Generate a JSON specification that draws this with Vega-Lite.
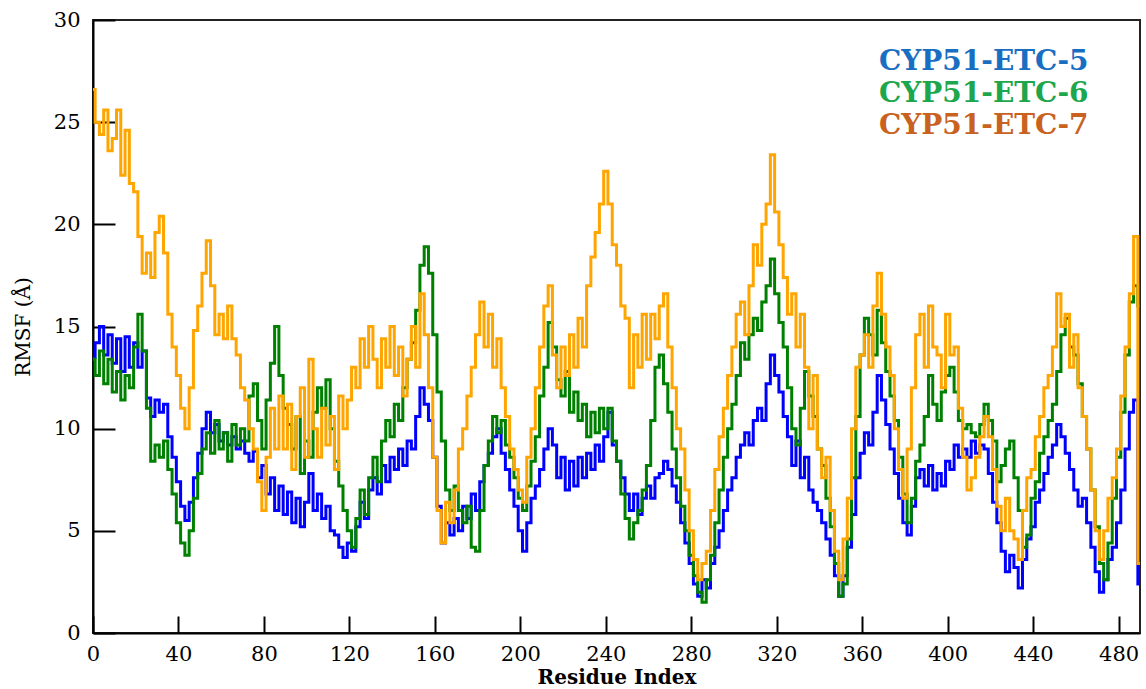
{
"$schema": "https://vega.github.io/schema/vega-lite/v6.json",
"width": 1047,
"height": 613,
"autosize": {"type": "none"},
"padding": {"left": 93, "top": 20, "right": 6, "bottom": 56},
"view": {"stroke": "#222222", "strokeWidth": 2},
"data": {"values": [
{"s":"CYP51-ETC-5","r":0,"v":13.5},{"s":"CYP51-ETC-5","r":2,"v":14.2},{"s":"CYP51-ETC-5","r":4,"v":15.0},{"s":"CYP51-ETC-5","r":6,"v":13.6},{"s":"CYP51-ETC-5","r":8,"v":14.6},{"s":"CYP51-ETC-5","r":10,"v":13.2},{"s":"CYP51-ETC-5","r":12,"v":14.4},{"s":"CYP51-ETC-5","r":14,"v":12.8},{"s":"CYP51-ETC-5","r":16,"v":14.5},{"s":"CYP51-ETC-5","r":18,"v":13.0},
{"s":"CYP51-ETC-5","r":20,"v":14.2},{"s":"CYP51-ETC-5","r":22,"v":13.0},{"s":"CYP51-ETC-5","r":24,"v":13.8},{"s":"CYP51-ETC-5","r":26,"v":11.5},{"s":"CYP51-ETC-5","r":28,"v":10.6},{"s":"CYP51-ETC-5","r":30,"v":11.4},{"s":"CYP51-ETC-5","r":32,"v":10.8},{"s":"CYP51-ETC-5","r":34,"v":11.2},{"s":"CYP51-ETC-5","r":36,"v":9.6},{"s":"CYP51-ETC-5","r":38,"v":8.6},
{"s":"CYP51-ETC-5","r":40,"v":7.4},{"s":"CYP51-ETC-5","r":42,"v":6.2},{"s":"CYP51-ETC-5","r":44,"v":5.5},{"s":"CYP51-ETC-5","r":46,"v":6.4},{"s":"CYP51-ETC-5","r":48,"v":7.6},{"s":"CYP51-ETC-5","r":50,"v":8.8},{"s":"CYP51-ETC-5","r":52,"v":10.0},{"s":"CYP51-ETC-5","r":54,"v":10.8},{"s":"CYP51-ETC-5","r":56,"v":9.8},{"s":"CYP51-ETC-5","r":58,"v":10.2},
{"s":"CYP51-ETC-5","r":60,"v":9.4},{"s":"CYP51-ETC-5","r":62,"v":9.8},{"s":"CYP51-ETC-5","r":64,"v":9.2},{"s":"CYP51-ETC-5","r":66,"v":9.6},{"s":"CYP51-ETC-5","r":68,"v":9.0},{"s":"CYP51-ETC-5","r":70,"v":9.4},{"s":"CYP51-ETC-5","r":72,"v":8.8},{"s":"CYP51-ETC-5","r":74,"v":8.4},{"s":"CYP51-ETC-5","r":76,"v":8.9},{"s":"CYP51-ETC-5","r":78,"v":7.6},
{"s":"CYP51-ETC-5","r":80,"v":8.2},{"s":"CYP51-ETC-5","r":82,"v":6.8},{"s":"CYP51-ETC-5","r":84,"v":7.6},{"s":"CYP51-ETC-5","r":86,"v":6.0},{"s":"CYP51-ETC-5","r":88,"v":7.2},{"s":"CYP51-ETC-5","r":90,"v":5.8},{"s":"CYP51-ETC-5","r":92,"v":6.9},{"s":"CYP51-ETC-5","r":94,"v":5.4},{"s":"CYP51-ETC-5","r":96,"v":6.6},{"s":"CYP51-ETC-5","r":98,"v":5.2},
{"s":"CYP51-ETC-5","r":100,"v":6.4},{"s":"CYP51-ETC-5","r":102,"v":7.8},{"s":"CYP51-ETC-5","r":104,"v":6.0},{"s":"CYP51-ETC-5","r":106,"v":6.8},{"s":"CYP51-ETC-5","r":108,"v":5.6},{"s":"CYP51-ETC-5","r":110,"v":6.2},{"s":"CYP51-ETC-5","r":112,"v":5.0},{"s":"CYP51-ETC-5","r":114,"v":4.8},{"s":"CYP51-ETC-5","r":116,"v":4.2},{"s":"CYP51-ETC-5","r":118,"v":3.7},
{"s":"CYP51-ETC-5","r":120,"v":4.4},{"s":"CYP51-ETC-5","r":122,"v":4.0},{"s":"CYP51-ETC-5","r":124,"v":5.2},{"s":"CYP51-ETC-5","r":126,"v":6.4},{"s":"CYP51-ETC-5","r":128,"v":5.6},{"s":"CYP51-ETC-5","r":130,"v":7.0},{"s":"CYP51-ETC-5","r":132,"v":7.6},{"s":"CYP51-ETC-5","r":134,"v":6.8},{"s":"CYP51-ETC-5","r":136,"v":8.2},{"s":"CYP51-ETC-5","r":138,"v":7.4},
{"s":"CYP51-ETC-5","r":140,"v":8.6},{"s":"CYP51-ETC-5","r":142,"v":8.0},{"s":"CYP51-ETC-5","r":144,"v":9.0},{"s":"CYP51-ETC-5","r":146,"v":8.2},{"s":"CYP51-ETC-5","r":148,"v":9.4},{"s":"CYP51-ETC-5","r":150,"v":9.0},{"s":"CYP51-ETC-5","r":152,"v":10.6},{"s":"CYP51-ETC-5","r":154,"v":12.0},{"s":"CYP51-ETC-5","r":156,"v":11.2},{"s":"CYP51-ETC-5","r":158,"v":10.4},
{"s":"CYP51-ETC-5","r":160,"v":8.6},{"s":"CYP51-ETC-5","r":162,"v":6.2},{"s":"CYP51-ETC-5","r":164,"v":4.4},{"s":"CYP51-ETC-5","r":166,"v":5.4},{"s":"CYP51-ETC-5","r":168,"v":4.8},{"s":"CYP51-ETC-5","r":170,"v":5.6},{"s":"CYP51-ETC-5","r":172,"v":5.0},{"s":"CYP51-ETC-5","r":174,"v":6.2},{"s":"CYP51-ETC-5","r":176,"v":5.6},{"s":"CYP51-ETC-5","r":178,"v":6.8},
{"s":"CYP51-ETC-5","r":180,"v":6.0},{"s":"CYP51-ETC-5","r":182,"v":7.4},{"s":"CYP51-ETC-5","r":184,"v":8.2},{"s":"CYP51-ETC-5","r":186,"v":8.8},{"s":"CYP51-ETC-5","r":188,"v":9.6},{"s":"CYP51-ETC-5","r":190,"v":10.0},{"s":"CYP51-ETC-5","r":192,"v":8.8},{"s":"CYP51-ETC-5","r":194,"v":8.0},{"s":"CYP51-ETC-5","r":196,"v":7.0},{"s":"CYP51-ETC-5","r":198,"v":6.2},
{"s":"CYP51-ETC-5","r":200,"v":5.0},{"s":"CYP51-ETC-5","r":202,"v":4.0},{"s":"CYP51-ETC-5","r":204,"v":5.4},{"s":"CYP51-ETC-5","r":206,"v":6.6},{"s":"CYP51-ETC-5","r":208,"v":7.2},{"s":"CYP51-ETC-5","r":210,"v":8.0},{"s":"CYP51-ETC-5","r":212,"v":9.0},{"s":"CYP51-ETC-5","r":214,"v":10.0},{"s":"CYP51-ETC-5","r":216,"v":9.2},{"s":"CYP51-ETC-5","r":218,"v":7.6},
{"s":"CYP51-ETC-5","r":220,"v":8.6},{"s":"CYP51-ETC-5","r":222,"v":7.0},{"s":"CYP51-ETC-5","r":224,"v":8.4},{"s":"CYP51-ETC-5","r":226,"v":7.2},{"s":"CYP51-ETC-5","r":228,"v":8.6},{"s":"CYP51-ETC-5","r":230,"v":7.6},{"s":"CYP51-ETC-5","r":232,"v":8.8},{"s":"CYP51-ETC-5","r":234,"v":8.0},{"s":"CYP51-ETC-5","r":236,"v":9.2},{"s":"CYP51-ETC-5","r":238,"v":8.4},
{"s":"CYP51-ETC-5","r":240,"v":9.6},{"s":"CYP51-ETC-5","r":242,"v":10.8},{"s":"CYP51-ETC-5","r":244,"v":9.2},{"s":"CYP51-ETC-5","r":246,"v":8.4},{"s":"CYP51-ETC-5","r":248,"v":7.6},{"s":"CYP51-ETC-5","r":250,"v":6.8},{"s":"CYP51-ETC-5","r":252,"v":6.0},{"s":"CYP51-ETC-5","r":254,"v":6.8},{"s":"CYP51-ETC-5","r":256,"v":5.8},{"s":"CYP51-ETC-5","r":258,"v":6.6},
{"s":"CYP51-ETC-5","r":260,"v":7.2},{"s":"CYP51-ETC-5","r":262,"v":6.6},{"s":"CYP51-ETC-5","r":264,"v":7.6},{"s":"CYP51-ETC-5","r":266,"v":7.8},{"s":"CYP51-ETC-5","r":268,"v":8.4},{"s":"CYP51-ETC-5","r":270,"v":8.0},{"s":"CYP51-ETC-5","r":272,"v":7.2},{"s":"CYP51-ETC-5","r":274,"v":6.4},{"s":"CYP51-ETC-5","r":276,"v":5.4},{"s":"CYP51-ETC-5","r":278,"v":4.4},
{"s":"CYP51-ETC-5","r":280,"v":3.4},{"s":"CYP51-ETC-5","r":282,"v":2.4},{"s":"CYP51-ETC-5","r":284,"v":1.8},{"s":"CYP51-ETC-5","r":286,"v":2.6},{"s":"CYP51-ETC-5","r":288,"v":2.2},{"s":"CYP51-ETC-5","r":290,"v":3.4},{"s":"CYP51-ETC-5","r":292,"v":4.2},{"s":"CYP51-ETC-5","r":294,"v":5.0},{"s":"CYP51-ETC-5","r":296,"v":6.0},{"s":"CYP51-ETC-5","r":298,"v":7.0},
{"s":"CYP51-ETC-5","r":300,"v":7.6},{"s":"CYP51-ETC-5","r":302,"v":8.6},{"s":"CYP51-ETC-5","r":304,"v":9.2},{"s":"CYP51-ETC-5","r":306,"v":9.8},{"s":"CYP51-ETC-5","r":308,"v":9.2},{"s":"CYP51-ETC-5","r":310,"v":10.4},{"s":"CYP51-ETC-5","r":312,"v":11.0},{"s":"CYP51-ETC-5","r":314,"v":10.4},{"s":"CYP51-ETC-5","r":316,"v":12.2},{"s":"CYP51-ETC-5","r":318,"v":13.6},
{"s":"CYP51-ETC-5","r":320,"v":12.6},{"s":"CYP51-ETC-5","r":322,"v":11.8},{"s":"CYP51-ETC-5","r":324,"v":10.6},{"s":"CYP51-ETC-5","r":326,"v":9.6},{"s":"CYP51-ETC-5","r":328,"v":8.2},{"s":"CYP51-ETC-5","r":330,"v":9.4},{"s":"CYP51-ETC-5","r":332,"v":7.6},{"s":"CYP51-ETC-5","r":334,"v":8.6},{"s":"CYP51-ETC-5","r":336,"v":7.0},{"s":"CYP51-ETC-5","r":338,"v":6.4},
{"s":"CYP51-ETC-5","r":340,"v":6.0},{"s":"CYP51-ETC-5","r":342,"v":5.4},{"s":"CYP51-ETC-5","r":344,"v":4.6},{"s":"CYP51-ETC-5","r":346,"v":3.8},{"s":"CYP51-ETC-5","r":348,"v":2.8},{"s":"CYP51-ETC-5","r":350,"v":1.8},{"s":"CYP51-ETC-5","r":352,"v":2.8},{"s":"CYP51-ETC-5","r":354,"v":4.2},{"s":"CYP51-ETC-5","r":356,"v":5.8},{"s":"CYP51-ETC-5","r":358,"v":7.6},
{"s":"CYP51-ETC-5","r":360,"v":8.8},{"s":"CYP51-ETC-5","r":362,"v":9.8},{"s":"CYP51-ETC-5","r":364,"v":9.2},{"s":"CYP51-ETC-5","r":366,"v":10.8},{"s":"CYP51-ETC-5","r":368,"v":12.6},{"s":"CYP51-ETC-5","r":370,"v":11.4},{"s":"CYP51-ETC-5","r":372,"v":10.2},{"s":"CYP51-ETC-5","r":374,"v":9.0},{"s":"CYP51-ETC-5","r":376,"v":7.8},{"s":"CYP51-ETC-5","r":378,"v":6.6},
{"s":"CYP51-ETC-5","r":380,"v":5.4},{"s":"CYP51-ETC-5","r":382,"v":4.8},{"s":"CYP51-ETC-5","r":384,"v":6.2},{"s":"CYP51-ETC-5","r":386,"v":7.6},{"s":"CYP51-ETC-5","r":388,"v":8.0},{"s":"CYP51-ETC-5","r":390,"v":7.2},{"s":"CYP51-ETC-5","r":392,"v":8.2},{"s":"CYP51-ETC-5","r":394,"v":7.0},{"s":"CYP51-ETC-5","r":396,"v":7.8},{"s":"CYP51-ETC-5","r":398,"v":7.2},
{"s":"CYP51-ETC-5","r":400,"v":8.4},{"s":"CYP51-ETC-5","r":402,"v":8.0},{"s":"CYP51-ETC-5","r":404,"v":9.2},{"s":"CYP51-ETC-5","r":406,"v":8.6},{"s":"CYP51-ETC-5","r":408,"v":9.0},{"s":"CYP51-ETC-5","r":410,"v":8.6},{"s":"CYP51-ETC-5","r":412,"v":9.4},{"s":"CYP51-ETC-5","r":414,"v":8.8},{"s":"CYP51-ETC-5","r":416,"v":9.2},{"s":"CYP51-ETC-5","r":418,"v":9.0},
{"s":"CYP51-ETC-5","r":420,"v":7.8},{"s":"CYP51-ETC-5","r":422,"v":6.4},{"s":"CYP51-ETC-5","r":424,"v":5.4},{"s":"CYP51-ETC-5","r":426,"v":4.0},{"s":"CYP51-ETC-5","r":428,"v":3.0},{"s":"CYP51-ETC-5","r":430,"v":3.8},{"s":"CYP51-ETC-5","r":432,"v":3.2},{"s":"CYP51-ETC-5","r":434,"v":2.2},{"s":"CYP51-ETC-5","r":436,"v":3.6},{"s":"CYP51-ETC-5","r":438,"v":4.6},
{"s":"CYP51-ETC-5","r":440,"v":5.2},{"s":"CYP51-ETC-5","r":442,"v":6.4},{"s":"CYP51-ETC-5","r":444,"v":7.0},{"s":"CYP51-ETC-5","r":446,"v":7.8},{"s":"CYP51-ETC-5","r":448,"v":8.6},{"s":"CYP51-ETC-5","r":450,"v":9.2},{"s":"CYP51-ETC-5","r":452,"v":10.2},{"s":"CYP51-ETC-5","r":454,"v":9.6},{"s":"CYP51-ETC-5","r":456,"v":8.8},{"s":"CYP51-ETC-5","r":458,"v":8.0},
{"s":"CYP51-ETC-5","r":460,"v":7.0},{"s":"CYP51-ETC-5","r":462,"v":6.2},{"s":"CYP51-ETC-5","r":464,"v":6.6},{"s":"CYP51-ETC-5","r":466,"v":5.4},{"s":"CYP51-ETC-5","r":468,"v":4.2},{"s":"CYP51-ETC-5","r":470,"v":3.0},{"s":"CYP51-ETC-5","r":472,"v":2.0},{"s":"CYP51-ETC-5","r":474,"v":2.6},{"s":"CYP51-ETC-5","r":476,"v":3.6},{"s":"CYP51-ETC-5","r":478,"v":4.2},
{"s":"CYP51-ETC-5","r":480,"v":5.4},{"s":"CYP51-ETC-5","r":482,"v":7.0},{"s":"CYP51-ETC-5","r":484,"v":9.0},{"s":"CYP51-ETC-5","r":486,"v":10.8},{"s":"CYP51-ETC-5","r":488,"v":11.4},{"s":"CYP51-ETC-5","r":490,"v":2.4},
{"s":"CYP51-ETC-6","r":0,"v":13.4},{"s":"CYP51-ETC-6","r":2,"v":12.6},{"s":"CYP51-ETC-6","r":4,"v":13.8},{"s":"CYP51-ETC-6","r":6,"v":12.2},{"s":"CYP51-ETC-6","r":8,"v":13.4},{"s":"CYP51-ETC-6","r":10,"v":11.8},{"s":"CYP51-ETC-6","r":12,"v":12.8},{"s":"CYP51-ETC-6","r":14,"v":11.4},{"s":"CYP51-ETC-6","r":16,"v":12.6},{"s":"CYP51-ETC-6","r":18,"v":12.0},
{"s":"CYP51-ETC-6","r":20,"v":14.0},{"s":"CYP51-ETC-6","r":22,"v":15.6},{"s":"CYP51-ETC-6","r":24,"v":13.8},{"s":"CYP51-ETC-6","r":26,"v":11.0},{"s":"CYP51-ETC-6","r":28,"v":8.4},{"s":"CYP51-ETC-6","r":30,"v":9.2},{"s":"CYP51-ETC-6","r":32,"v":8.6},{"s":"CYP51-ETC-6","r":34,"v":9.4},{"s":"CYP51-ETC-6","r":36,"v":8.0},{"s":"CYP51-ETC-6","r":38,"v":6.8},
{"s":"CYP51-ETC-6","r":40,"v":5.4},{"s":"CYP51-ETC-6","r":42,"v":4.4},{"s":"CYP51-ETC-6","r":44,"v":3.8},{"s":"CYP51-ETC-6","r":46,"v":5.0},{"s":"CYP51-ETC-6","r":48,"v":6.6},{"s":"CYP51-ETC-6","r":50,"v":7.8},{"s":"CYP51-ETC-6","r":52,"v":9.0},{"s":"CYP51-ETC-6","r":54,"v":9.8},{"s":"CYP51-ETC-6","r":56,"v":8.8},{"s":"CYP51-ETC-6","r":58,"v":10.4},
{"s":"CYP51-ETC-6","r":60,"v":9.0},{"s":"CYP51-ETC-6","r":62,"v":9.8},{"s":"CYP51-ETC-6","r":64,"v":8.4},{"s":"CYP51-ETC-6","r":66,"v":10.2},{"s":"CYP51-ETC-6","r":68,"v":9.2},{"s":"CYP51-ETC-6","r":70,"v":10.0},{"s":"CYP51-ETC-6","r":72,"v":9.4},{"s":"CYP51-ETC-6","r":74,"v":11.6},{"s":"CYP51-ETC-6","r":76,"v":12.2},{"s":"CYP51-ETC-6","r":78,"v":10.4},
{"s":"CYP51-ETC-6","r":80,"v":9.0},{"s":"CYP51-ETC-6","r":82,"v":11.4},{"s":"CYP51-ETC-6","r":84,"v":13.2},{"s":"CYP51-ETC-6","r":86,"v":15.0},{"s":"CYP51-ETC-6","r":88,"v":12.6},{"s":"CYP51-ETC-6","r":90,"v":11.0},{"s":"CYP51-ETC-6","r":92,"v":10.2},{"s":"CYP51-ETC-6","r":94,"v":9.0},{"s":"CYP51-ETC-6","r":96,"v":10.6},{"s":"CYP51-ETC-6","r":98,"v":7.8},
{"s":"CYP51-ETC-6","r":100,"v":9.4},{"s":"CYP51-ETC-6","r":102,"v":8.6},{"s":"CYP51-ETC-6","r":104,"v":10.8},{"s":"CYP51-ETC-6","r":106,"v":12.0},{"s":"CYP51-ETC-6","r":108,"v":11.0},{"s":"CYP51-ETC-6","r":110,"v":12.4},{"s":"CYP51-ETC-6","r":112,"v":10.0},{"s":"CYP51-ETC-6","r":114,"v":8.4},{"s":"CYP51-ETC-6","r":116,"v":7.2},{"s":"CYP51-ETC-6","r":118,"v":6.0},
{"s":"CYP51-ETC-6","r":120,"v":5.0},{"s":"CYP51-ETC-6","r":122,"v":4.2},{"s":"CYP51-ETC-6","r":124,"v":5.6},{"s":"CYP51-ETC-6","r":126,"v":7.0},{"s":"CYP51-ETC-6","r":128,"v":5.8},{"s":"CYP51-ETC-6","r":130,"v":7.6},{"s":"CYP51-ETC-6","r":132,"v":8.6},{"s":"CYP51-ETC-6","r":134,"v":7.4},{"s":"CYP51-ETC-6","r":136,"v":9.4},{"s":"CYP51-ETC-6","r":138,"v":10.4},
{"s":"CYP51-ETC-6","r":140,"v":9.6},{"s":"CYP51-ETC-6","r":142,"v":11.2},{"s":"CYP51-ETC-6","r":144,"v":10.4},{"s":"CYP51-ETC-6","r":146,"v":12.0},{"s":"CYP51-ETC-6","r":148,"v":13.4},{"s":"CYP51-ETC-6","r":150,"v":14.2},{"s":"CYP51-ETC-6","r":152,"v":15.8},{"s":"CYP51-ETC-6","r":154,"v":18.0},{"s":"CYP51-ETC-6","r":156,"v":18.9},{"s":"CYP51-ETC-6","r":158,"v":17.6},
{"s":"CYP51-ETC-6","r":160,"v":14.6},{"s":"CYP51-ETC-6","r":162,"v":11.8},{"s":"CYP51-ETC-6","r":164,"v":9.4},{"s":"CYP51-ETC-6","r":166,"v":7.0},{"s":"CYP51-ETC-6","r":168,"v":6.0},{"s":"CYP51-ETC-6","r":170,"v":7.2},{"s":"CYP51-ETC-6","r":172,"v":6.0},{"s":"CYP51-ETC-6","r":174,"v":5.4},{"s":"CYP51-ETC-6","r":176,"v":6.2},{"s":"CYP51-ETC-6","r":178,"v":4.2},
{"s":"CYP51-ETC-6","r":180,"v":4.0},{"s":"CYP51-ETC-6","r":182,"v":6.0},{"s":"CYP51-ETC-6","r":184,"v":8.2},{"s":"CYP51-ETC-6","r":186,"v":9.4},{"s":"CYP51-ETC-6","r":188,"v":10.6},{"s":"CYP51-ETC-6","r":190,"v":9.8},{"s":"CYP51-ETC-6","r":192,"v":10.4},{"s":"CYP51-ETC-6","r":194,"v":9.2},{"s":"CYP51-ETC-6","r":196,"v":8.6},{"s":"CYP51-ETC-6","r":198,"v":7.6},
{"s":"CYP51-ETC-6","r":200,"v":6.6},{"s":"CYP51-ETC-6","r":202,"v":6.0},{"s":"CYP51-ETC-6","r":204,"v":7.2},{"s":"CYP51-ETC-6","r":206,"v":8.4},{"s":"CYP51-ETC-6","r":208,"v":9.6},{"s":"CYP51-ETC-6","r":210,"v":11.6},{"s":"CYP51-ETC-6","r":212,"v":13.0},{"s":"CYP51-ETC-6","r":214,"v":15.2},{"s":"CYP51-ETC-6","r":216,"v":14.0},{"s":"CYP51-ETC-6","r":218,"v":12.4},
{"s":"CYP51-ETC-6","r":220,"v":11.6},{"s":"CYP51-ETC-6","r":222,"v":12.8},{"s":"CYP51-ETC-6","r":224,"v":10.8},{"s":"CYP51-ETC-6","r":226,"v":11.8},{"s":"CYP51-ETC-6","r":228,"v":10.4},{"s":"CYP51-ETC-6","r":230,"v":11.2},{"s":"CYP51-ETC-6","r":232,"v":9.6},{"s":"CYP51-ETC-6","r":234,"v":10.8},{"s":"CYP51-ETC-6","r":236,"v":9.8},{"s":"CYP51-ETC-6","r":238,"v":11.0},
{"s":"CYP51-ETC-6","r":240,"v":10.0},{"s":"CYP51-ETC-6","r":242,"v":11.0},{"s":"CYP51-ETC-6","r":244,"v":9.4},{"s":"CYP51-ETC-6","r":246,"v":8.4},{"s":"CYP51-ETC-6","r":248,"v":6.8},{"s":"CYP51-ETC-6","r":250,"v":5.6},{"s":"CYP51-ETC-6","r":252,"v":4.6},{"s":"CYP51-ETC-6","r":254,"v":5.4},{"s":"CYP51-ETC-6","r":256,"v":6.0},{"s":"CYP51-ETC-6","r":258,"v":7.0},
{"s":"CYP51-ETC-6","r":260,"v":8.2},{"s":"CYP51-ETC-6","r":262,"v":10.4},{"s":"CYP51-ETC-6","r":264,"v":13.0},{"s":"CYP51-ETC-6","r":266,"v":13.6},{"s":"CYP51-ETC-6","r":268,"v":12.2},{"s":"CYP51-ETC-6","r":270,"v":10.8},{"s":"CYP51-ETC-6","r":272,"v":9.0},{"s":"CYP51-ETC-6","r":274,"v":7.6},{"s":"CYP51-ETC-6","r":276,"v":6.2},{"s":"CYP51-ETC-6","r":278,"v":5.0},
{"s":"CYP51-ETC-6","r":280,"v":3.8},{"s":"CYP51-ETC-6","r":282,"v":2.8},{"s":"CYP51-ETC-6","r":284,"v":2.0},{"s":"CYP51-ETC-6","r":286,"v":1.5},{"s":"CYP51-ETC-6","r":288,"v":2.6},{"s":"CYP51-ETC-6","r":290,"v":3.8},{"s":"CYP51-ETC-6","r":292,"v":5.4},{"s":"CYP51-ETC-6","r":294,"v":7.0},{"s":"CYP51-ETC-6","r":296,"v":8.6},{"s":"CYP51-ETC-6","r":298,"v":10.0},
{"s":"CYP51-ETC-6","r":300,"v":11.2},{"s":"CYP51-ETC-6","r":302,"v":12.6},{"s":"CYP51-ETC-6","r":304,"v":14.2},{"s":"CYP51-ETC-6","r":306,"v":13.4},{"s":"CYP51-ETC-6","r":308,"v":14.6},{"s":"CYP51-ETC-6","r":310,"v":15.4},{"s":"CYP51-ETC-6","r":312,"v":14.8},{"s":"CYP51-ETC-6","r":314,"v":16.2},{"s":"CYP51-ETC-6","r":316,"v":17.0},{"s":"CYP51-ETC-6","r":318,"v":18.3},
{"s":"CYP51-ETC-6","r":320,"v":16.6},{"s":"CYP51-ETC-6","r":322,"v":15.2},{"s":"CYP51-ETC-6","r":324,"v":14.0},{"s":"CYP51-ETC-6","r":326,"v":12.0},{"s":"CYP51-ETC-6","r":328,"v":10.0},{"s":"CYP51-ETC-6","r":330,"v":9.2},{"s":"CYP51-ETC-6","r":332,"v":11.0},{"s":"CYP51-ETC-6","r":334,"v":12.8},{"s":"CYP51-ETC-6","r":336,"v":11.6},{"s":"CYP51-ETC-6","r":338,"v":10.6},
{"s":"CYP51-ETC-6","r":340,"v":9.0},{"s":"CYP51-ETC-6","r":342,"v":8.2},{"s":"CYP51-ETC-6","r":344,"v":6.6},{"s":"CYP51-ETC-6","r":346,"v":5.2},{"s":"CYP51-ETC-6","r":348,"v":3.4},{"s":"CYP51-ETC-6","r":350,"v":1.8},{"s":"CYP51-ETC-6","r":352,"v":2.4},{"s":"CYP51-ETC-6","r":354,"v":4.6},{"s":"CYP51-ETC-6","r":356,"v":7.6},{"s":"CYP51-ETC-6","r":358,"v":10.6},
{"s":"CYP51-ETC-6","r":360,"v":13.6},{"s":"CYP51-ETC-6","r":362,"v":15.4},{"s":"CYP51-ETC-6","r":364,"v":14.6},{"s":"CYP51-ETC-6","r":366,"v":13.6},{"s":"CYP51-ETC-6","r":368,"v":15.8},{"s":"CYP51-ETC-6","r":370,"v":14.2},{"s":"CYP51-ETC-6","r":372,"v":12.8},{"s":"CYP51-ETC-6","r":374,"v":11.6},{"s":"CYP51-ETC-6","r":376,"v":10.4},{"s":"CYP51-ETC-6","r":378,"v":8.6},
{"s":"CYP51-ETC-6","r":380,"v":6.8},{"s":"CYP51-ETC-6","r":382,"v":5.4},{"s":"CYP51-ETC-6","r":384,"v":6.6},{"s":"CYP51-ETC-6","r":386,"v":8.4},{"s":"CYP51-ETC-6","r":388,"v":9.2},{"s":"CYP51-ETC-6","r":390,"v":10.6},{"s":"CYP51-ETC-6","r":392,"v":12.6},{"s":"CYP51-ETC-6","r":394,"v":11.2},{"s":"CYP51-ETC-6","r":396,"v":10.4},{"s":"CYP51-ETC-6","r":398,"v":11.8},
{"s":"CYP51-ETC-6","r":400,"v":12.6},{"s":"CYP51-ETC-6","r":402,"v":13.0},{"s":"CYP51-ETC-6","r":404,"v":11.8},{"s":"CYP51-ETC-6","r":406,"v":10.4},{"s":"CYP51-ETC-6","r":408,"v":10.0},{"s":"CYP51-ETC-6","r":410,"v":10.2},{"s":"CYP51-ETC-6","r":412,"v":9.8},{"s":"CYP51-ETC-6","r":414,"v":9.6},{"s":"CYP51-ETC-6","r":416,"v":10.2},{"s":"CYP51-ETC-6","r":418,"v":11.2},
{"s":"CYP51-ETC-6","r":420,"v":10.4},{"s":"CYP51-ETC-6","r":422,"v":9.4},{"s":"CYP51-ETC-6","r":424,"v":7.4},{"s":"CYP51-ETC-6","r":426,"v":8.2},{"s":"CYP51-ETC-6","r":428,"v":9.0},{"s":"CYP51-ETC-6","r":430,"v":9.4},{"s":"CYP51-ETC-6","r":432,"v":7.6},{"s":"CYP51-ETC-6","r":434,"v":6.0},{"s":"CYP51-ETC-6","r":436,"v":4.2},{"s":"CYP51-ETC-6","r":438,"v":4.8},
{"s":"CYP51-ETC-6","r":440,"v":6.6},{"s":"CYP51-ETC-6","r":442,"v":7.4},{"s":"CYP51-ETC-6","r":444,"v":8.8},{"s":"CYP51-ETC-6","r":446,"v":9.6},{"s":"CYP51-ETC-6","r":448,"v":10.4},{"s":"CYP51-ETC-6","r":450,"v":11.2},{"s":"CYP51-ETC-6","r":452,"v":12.8},{"s":"CYP51-ETC-6","r":454,"v":14.6},{"s":"CYP51-ETC-6","r":456,"v":15.4},{"s":"CYP51-ETC-6","r":458,"v":14.0},
{"s":"CYP51-ETC-6","r":460,"v":13.6},{"s":"CYP51-ETC-6","r":462,"v":12.2},{"s":"CYP51-ETC-6","r":464,"v":10.6},{"s":"CYP51-ETC-6","r":466,"v":9.0},{"s":"CYP51-ETC-6","r":468,"v":7.0},{"s":"CYP51-ETC-6","r":470,"v":5.2},{"s":"CYP51-ETC-6","r":472,"v":3.4},{"s":"CYP51-ETC-6","r":474,"v":2.6},{"s":"CYP51-ETC-6","r":476,"v":4.4},{"s":"CYP51-ETC-6","r":478,"v":6.6},
{"s":"CYP51-ETC-6","r":480,"v":8.6},{"s":"CYP51-ETC-6","r":482,"v":10.8},{"s":"CYP51-ETC-6","r":484,"v":13.6},{"s":"CYP51-ETC-6","r":486,"v":16.2},{"s":"CYP51-ETC-6","r":488,"v":17.0},{"s":"CYP51-ETC-6","r":490,"v":16.0},
{"s":"CYP51-ETC-7","r":0,"v":26.6},{"s":"CYP51-ETC-7","r":2,"v":25.0},{"s":"CYP51-ETC-7","r":4,"v":24.4},{"s":"CYP51-ETC-7","r":6,"v":25.6},{"s":"CYP51-ETC-7","r":8,"v":23.6},{"s":"CYP51-ETC-7","r":10,"v":24.2},{"s":"CYP51-ETC-7","r":12,"v":25.6},{"s":"CYP51-ETC-7","r":14,"v":22.4},{"s":"CYP51-ETC-7","r":16,"v":24.6},{"s":"CYP51-ETC-7","r":18,"v":22.0},
{"s":"CYP51-ETC-7","r":20,"v":21.6},{"s":"CYP51-ETC-7","r":22,"v":19.4},{"s":"CYP51-ETC-7","r":24,"v":17.6},{"s":"CYP51-ETC-7","r":26,"v":18.6},{"s":"CYP51-ETC-7","r":28,"v":17.4},{"s":"CYP51-ETC-7","r":30,"v":19.6},{"s":"CYP51-ETC-7","r":32,"v":20.4},{"s":"CYP51-ETC-7","r":34,"v":18.6},{"s":"CYP51-ETC-7","r":36,"v":15.6},{"s":"CYP51-ETC-7","r":38,"v":14.0},
{"s":"CYP51-ETC-7","r":40,"v":12.6},{"s":"CYP51-ETC-7","r":42,"v":11.0},{"s":"CYP51-ETC-7","r":44,"v":10.0},{"s":"CYP51-ETC-7","r":46,"v":12.0},{"s":"CYP51-ETC-7","r":48,"v":14.8},{"s":"CYP51-ETC-7","r":50,"v":16.0},{"s":"CYP51-ETC-7","r":52,"v":17.6},{"s":"CYP51-ETC-7","r":54,"v":19.2},{"s":"CYP51-ETC-7","r":56,"v":17.0},{"s":"CYP51-ETC-7","r":58,"v":14.6},
{"s":"CYP51-ETC-7","r":60,"v":15.6},{"s":"CYP51-ETC-7","r":62,"v":14.4},{"s":"CYP51-ETC-7","r":64,"v":16.0},{"s":"CYP51-ETC-7","r":66,"v":14.4},{"s":"CYP51-ETC-7","r":68,"v":13.6},{"s":"CYP51-ETC-7","r":70,"v":12.0},{"s":"CYP51-ETC-7","r":72,"v":11.4},{"s":"CYP51-ETC-7","r":74,"v":10.0},{"s":"CYP51-ETC-7","r":76,"v":9.0},{"s":"CYP51-ETC-7","r":78,"v":7.4},
{"s":"CYP51-ETC-7","r":80,"v":6.0},{"s":"CYP51-ETC-7","r":82,"v":8.6},{"s":"CYP51-ETC-7","r":84,"v":11.0},{"s":"CYP51-ETC-7","r":86,"v":9.0},{"s":"CYP51-ETC-7","r":88,"v":11.6},{"s":"CYP51-ETC-7","r":90,"v":9.0},{"s":"CYP51-ETC-7","r":92,"v":11.2},{"s":"CYP51-ETC-7","r":94,"v":8.0},{"s":"CYP51-ETC-7","r":96,"v":10.6},{"s":"CYP51-ETC-7","r":98,"v":12.0},
{"s":"CYP51-ETC-7","r":100,"v":8.6},{"s":"CYP51-ETC-7","r":102,"v":13.4},{"s":"CYP51-ETC-7","r":104,"v":10.0},{"s":"CYP51-ETC-7","r":106,"v":8.6},{"s":"CYP51-ETC-7","r":108,"v":11.0},{"s":"CYP51-ETC-7","r":110,"v":9.2},{"s":"CYP51-ETC-7","r":112,"v":10.6},{"s":"CYP51-ETC-7","r":114,"v":8.0},{"s":"CYP51-ETC-7","r":116,"v":11.6},{"s":"CYP51-ETC-7","r":118,"v":10.0},
{"s":"CYP51-ETC-7","r":120,"v":11.4},{"s":"CYP51-ETC-7","r":122,"v":13.0},{"s":"CYP51-ETC-7","r":124,"v":12.0},{"s":"CYP51-ETC-7","r":126,"v":14.4},{"s":"CYP51-ETC-7","r":128,"v":13.0},{"s":"CYP51-ETC-7","r":130,"v":15.0},{"s":"CYP51-ETC-7","r":132,"v":13.4},{"s":"CYP51-ETC-7","r":134,"v":12.0},{"s":"CYP51-ETC-7","r":136,"v":14.4},{"s":"CYP51-ETC-7","r":138,"v":13.0},
{"s":"CYP51-ETC-7","r":140,"v":15.0},{"s":"CYP51-ETC-7","r":142,"v":12.6},{"s":"CYP51-ETC-7","r":144,"v":14.0},{"s":"CYP51-ETC-7","r":146,"v":11.6},{"s":"CYP51-ETC-7","r":148,"v":13.4},{"s":"CYP51-ETC-7","r":150,"v":15.0},{"s":"CYP51-ETC-7","r":152,"v":13.0},{"s":"CYP51-ETC-7","r":154,"v":16.6},{"s":"CYP51-ETC-7","r":156,"v":14.6},{"s":"CYP51-ETC-7","r":158,"v":12.0},
{"s":"CYP51-ETC-7","r":160,"v":8.6},{"s":"CYP51-ETC-7","r":162,"v":6.0},{"s":"CYP51-ETC-7","r":164,"v":4.4},{"s":"CYP51-ETC-7","r":166,"v":6.4},{"s":"CYP51-ETC-7","r":168,"v":5.4},{"s":"CYP51-ETC-7","r":170,"v":7.0},{"s":"CYP51-ETC-7","r":172,"v":9.0},{"s":"CYP51-ETC-7","r":174,"v":10.0},{"s":"CYP51-ETC-7","r":176,"v":11.6},{"s":"CYP51-ETC-7","r":178,"v":13.0},
{"s":"CYP51-ETC-7","r":180,"v":14.6},{"s":"CYP51-ETC-7","r":182,"v":16.2},{"s":"CYP51-ETC-7","r":184,"v":14.0},{"s":"CYP51-ETC-7","r":186,"v":15.6},{"s":"CYP51-ETC-7","r":188,"v":13.0},{"s":"CYP51-ETC-7","r":190,"v":14.4},{"s":"CYP51-ETC-7","r":192,"v":12.0},{"s":"CYP51-ETC-7","r":194,"v":10.6},{"s":"CYP51-ETC-7","r":196,"v":9.0},{"s":"CYP51-ETC-7","r":198,"v":8.0},
{"s":"CYP51-ETC-7","r":200,"v":7.0},{"s":"CYP51-ETC-7","r":202,"v":6.4},{"s":"CYP51-ETC-7","r":204,"v":8.6},{"s":"CYP51-ETC-7","r":206,"v":10.0},{"s":"CYP51-ETC-7","r":208,"v":12.0},{"s":"CYP51-ETC-7","r":210,"v":14.0},{"s":"CYP51-ETC-7","r":212,"v":16.0},{"s":"CYP51-ETC-7","r":214,"v":17.0},{"s":"CYP51-ETC-7","r":216,"v":13.6},{"s":"CYP51-ETC-7","r":218,"v":12.0},
{"s":"CYP51-ETC-7","r":220,"v":14.0},{"s":"CYP51-ETC-7","r":222,"v":12.6},{"s":"CYP51-ETC-7","r":224,"v":14.6},{"s":"CYP51-ETC-7","r":226,"v":13.0},{"s":"CYP51-ETC-7","r":228,"v":15.4},{"s":"CYP51-ETC-7","r":230,"v":14.0},{"s":"CYP51-ETC-7","r":232,"v":17.0},{"s":"CYP51-ETC-7","r":234,"v":18.4},{"s":"CYP51-ETC-7","r":236,"v":19.6},{"s":"CYP51-ETC-7","r":238,"v":21.0},
{"s":"CYP51-ETC-7","r":240,"v":22.6},{"s":"CYP51-ETC-7","r":242,"v":21.0},{"s":"CYP51-ETC-7","r":244,"v":19.0},{"s":"CYP51-ETC-7","r":246,"v":18.0},{"s":"CYP51-ETC-7","r":248,"v":16.0},{"s":"CYP51-ETC-7","r":250,"v":15.4},{"s":"CYP51-ETC-7","r":252,"v":12.0},{"s":"CYP51-ETC-7","r":254,"v":14.6},{"s":"CYP51-ETC-7","r":256,"v":13.0},{"s":"CYP51-ETC-7","r":258,"v":15.6},
{"s":"CYP51-ETC-7","r":260,"v":13.4},{"s":"CYP51-ETC-7","r":262,"v":15.6},{"s":"CYP51-ETC-7","r":264,"v":14.4},{"s":"CYP51-ETC-7","r":266,"v":16.0},{"s":"CYP51-ETC-7","r":268,"v":16.6},{"s":"CYP51-ETC-7","r":270,"v":14.0},{"s":"CYP51-ETC-7","r":272,"v":12.0},{"s":"CYP51-ETC-7","r":274,"v":10.0},{"s":"CYP51-ETC-7","r":276,"v":9.0},{"s":"CYP51-ETC-7","r":278,"v":7.0},
{"s":"CYP51-ETC-7","r":280,"v":5.0},{"s":"CYP51-ETC-7","r":282,"v":3.6},{"s":"CYP51-ETC-7","r":284,"v":2.6},{"s":"CYP51-ETC-7","r":286,"v":3.4},{"s":"CYP51-ETC-7","r":288,"v":4.0},{"s":"CYP51-ETC-7","r":290,"v":6.0},{"s":"CYP51-ETC-7","r":292,"v":8.0},{"s":"CYP51-ETC-7","r":294,"v":9.6},{"s":"CYP51-ETC-7","r":296,"v":11.0},{"s":"CYP51-ETC-7","r":298,"v":12.6},
{"s":"CYP51-ETC-7","r":300,"v":14.0},{"s":"CYP51-ETC-7","r":302,"v":15.6},{"s":"CYP51-ETC-7","r":304,"v":16.2},{"s":"CYP51-ETC-7","r":306,"v":14.6},{"s":"CYP51-ETC-7","r":308,"v":17.0},{"s":"CYP51-ETC-7","r":310,"v":19.0},{"s":"CYP51-ETC-7","r":312,"v":18.0},{"s":"CYP51-ETC-7","r":314,"v":20.0},{"s":"CYP51-ETC-7","r":316,"v":21.0},{"s":"CYP51-ETC-7","r":318,"v":23.4},
{"s":"CYP51-ETC-7","r":320,"v":20.6},{"s":"CYP51-ETC-7","r":322,"v":19.0},{"s":"CYP51-ETC-7","r":324,"v":17.4},{"s":"CYP51-ETC-7","r":326,"v":15.6},{"s":"CYP51-ETC-7","r":328,"v":16.6},{"s":"CYP51-ETC-7","r":330,"v":14.0},{"s":"CYP51-ETC-7","r":332,"v":15.6},{"s":"CYP51-ETC-7","r":334,"v":13.0},{"s":"CYP51-ETC-7","r":336,"v":10.0},{"s":"CYP51-ETC-7","r":338,"v":12.6},
{"s":"CYP51-ETC-7","r":340,"v":9.0},{"s":"CYP51-ETC-7","r":342,"v":7.6},{"s":"CYP51-ETC-7","r":344,"v":8.6},{"s":"CYP51-ETC-7","r":346,"v":6.0},{"s":"CYP51-ETC-7","r":348,"v":4.0},{"s":"CYP51-ETC-7","r":350,"v":2.6},{"s":"CYP51-ETC-7","r":352,"v":4.6},{"s":"CYP51-ETC-7","r":354,"v":6.6},{"s":"CYP51-ETC-7","r":356,"v":10.0},{"s":"CYP51-ETC-7","r":358,"v":13.0},
{"s":"CYP51-ETC-7","r":360,"v":13.6},{"s":"CYP51-ETC-7","r":362,"v":14.6},{"s":"CYP51-ETC-7","r":364,"v":13.0},{"s":"CYP51-ETC-7","r":366,"v":16.0},{"s":"CYP51-ETC-7","r":368,"v":17.6},{"s":"CYP51-ETC-7","r":370,"v":15.6},{"s":"CYP51-ETC-7","r":372,"v":14.0},{"s":"CYP51-ETC-7","r":374,"v":12.6},{"s":"CYP51-ETC-7","r":376,"v":10.0},{"s":"CYP51-ETC-7","r":378,"v":8.0},
{"s":"CYP51-ETC-7","r":380,"v":6.6},{"s":"CYP51-ETC-7","r":382,"v":9.0},{"s":"CYP51-ETC-7","r":384,"v":12.0},{"s":"CYP51-ETC-7","r":386,"v":14.6},{"s":"CYP51-ETC-7","r":388,"v":15.6},{"s":"CYP51-ETC-7","r":390,"v":13.0},{"s":"CYP51-ETC-7","r":392,"v":16.0},{"s":"CYP51-ETC-7","r":394,"v":14.0},{"s":"CYP51-ETC-7","r":396,"v":13.6},{"s":"CYP51-ETC-7","r":398,"v":12.0},
{"s":"CYP51-ETC-7","r":400,"v":15.6},{"s":"CYP51-ETC-7","r":402,"v":13.6},{"s":"CYP51-ETC-7","r":404,"v":14.0},{"s":"CYP51-ETC-7","r":406,"v":11.0},{"s":"CYP51-ETC-7","r":408,"v":8.6},{"s":"CYP51-ETC-7","r":410,"v":7.0},{"s":"CYP51-ETC-7","r":412,"v":7.6},{"s":"CYP51-ETC-7","r":414,"v":8.6},{"s":"CYP51-ETC-7","r":416,"v":9.6},{"s":"CYP51-ETC-7","r":418,"v":10.6},
{"s":"CYP51-ETC-7","r":420,"v":9.6},{"s":"CYP51-ETC-7","r":422,"v":8.0},{"s":"CYP51-ETC-7","r":424,"v":6.2},{"s":"CYP51-ETC-7","r":426,"v":5.0},{"s":"CYP51-ETC-7","r":428,"v":6.6},{"s":"CYP51-ETC-7","r":430,"v":5.0},{"s":"CYP51-ETC-7","r":432,"v":4.6},{"s":"CYP51-ETC-7","r":434,"v":3.6},{"s":"CYP51-ETC-7","r":436,"v":6.0},{"s":"CYP51-ETC-7","r":438,"v":7.6},
{"s":"CYP51-ETC-7","r":440,"v":8.0},{"s":"CYP51-ETC-7","r":442,"v":9.6},{"s":"CYP51-ETC-7","r":444,"v":10.6},{"s":"CYP51-ETC-7","r":446,"v":12.0},{"s":"CYP51-ETC-7","r":448,"v":12.6},{"s":"CYP51-ETC-7","r":450,"v":14.0},{"s":"CYP51-ETC-7","r":452,"v":16.6},{"s":"CYP51-ETC-7","r":454,"v":15.0},{"s":"CYP51-ETC-7","r":456,"v":15.6},{"s":"CYP51-ETC-7","r":458,"v":13.0},
{"s":"CYP51-ETC-7","r":460,"v":14.6},{"s":"CYP51-ETC-7","r":462,"v":12.0},{"s":"CYP51-ETC-7","r":464,"v":10.6},{"s":"CYP51-ETC-7","r":466,"v":9.0},{"s":"CYP51-ETC-7","r":468,"v":7.0},{"s":"CYP51-ETC-7","r":470,"v":5.0},{"s":"CYP51-ETC-7","r":472,"v":3.6},{"s":"CYP51-ETC-7","r":474,"v":5.0},{"s":"CYP51-ETC-7","r":476,"v":6.6},{"s":"CYP51-ETC-7","r":478,"v":7.6},
{"s":"CYP51-ETC-7","r":480,"v":9.0},{"s":"CYP51-ETC-7","r":482,"v":11.6},{"s":"CYP51-ETC-7","r":484,"v":14.0},{"s":"CYP51-ETC-7","r":486,"v":16.6},{"s":"CYP51-ETC-7","r":488,"v":19.4},{"s":"CYP51-ETC-7","r":490,"v":3.4}
]},
"mark": {"type": "line", "interpolate": "step", "strokeWidth": 3},
"encoding": {
"x": {"field": "r", "type": "quantitative", "scale": {"domain": [0, 490], "nice": false, "zero": false},
 "axis": {"title": "Residue Index", "values": [0,40,80,120,160,200,240,280,320,360,400,440,480], "tickSize": -17, "tickColor": "black", "tickWidth": 2, "labelPadding": 27, "labelFlush": false, "titleFontSize": 20, "titleFontWeight": "bold", "titlePadding": 3, "domainColor": "black", "domainWidth": 2, "labelFont": "DejaVu Serif", "labelFontSize": 21, "labelColor": "black", "titleFont": "DejaVu Serif", "titleColor": "black", "gridOpacity": 0}},
"y": {"field": "v", "type": "quantitative", "scale": {"domain": [0, 30], "nice": false},
 "axis": {"title": "RMSF (Å)", "values": [0,5,10,15,20,25,30], "tickSize": -22, "tickColor": "black", "tickWidth": 2, "labelPadding": 35, "titleFontSize": 20, "titleFontWeight": "normal", "titlePadding": 20, "domainColor": "black", "domainWidth": 2, "labelFont": "DejaVu Serif", "labelFontSize": 21, "labelColor": "black", "titleFont": "DejaVu Serif", "titleColor": "black", "gridOpacity": 0}},
"color": {"field": "s", "type": "nominal",
  "scale": {"domain": ["CYP51-ETC-5","CYP51-ETC-6","CYP51-ETC-7"], "range": ["#0000ff","#008000","#ffa500"]},
  "legend": {"title": null, "orient": "none", "legendX": 758, "legendY": 28, "padding": 0, "labelFont": "DejaVu Serif", "labelFontSize": 28, "labelFontWeight": "bold", "labelLimit": 400, "symbolOpacity": 0, "symbolSize": 0, "symbolStrokeWidth": 0, "labelOffset": 0, "rowPadding": 4,
   "encoding": {"labels": {"fill": {"condition": [{"test": "datum.value === 'CYP51-ETC-5'", "value": "#1a6ec2"}, {"test": "datum.value === 'CYP51-ETC-6'", "value": "#1ea64c"}], "value": "#c8621e"}}}}}
}
}
